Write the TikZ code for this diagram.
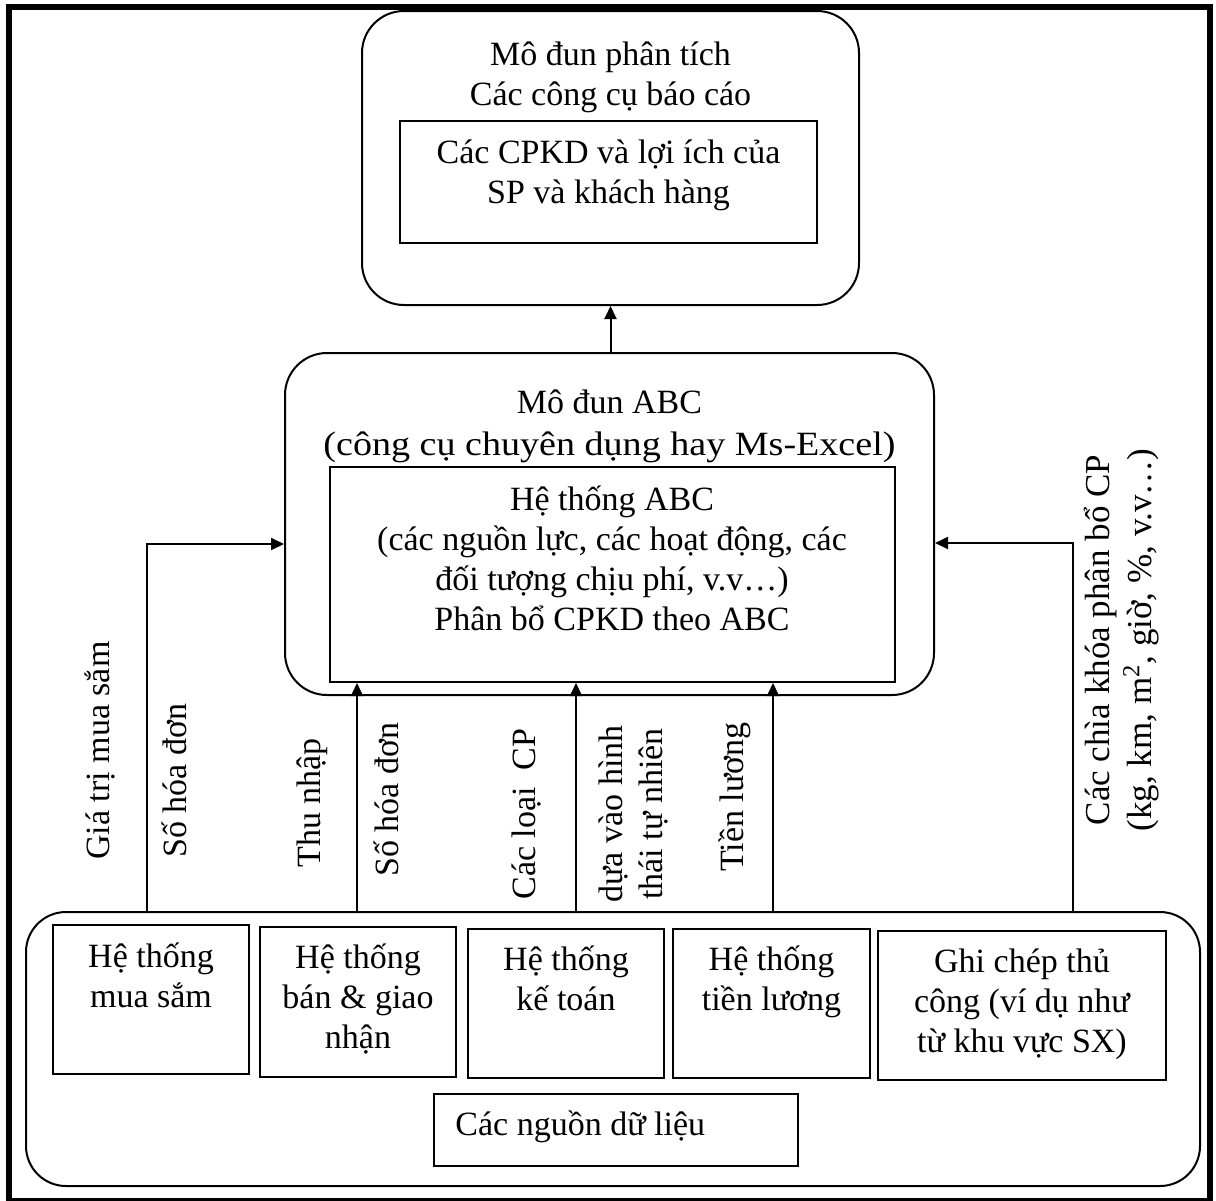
\documentclass[tikz,border=0pt]{standalone}
\usepackage{graphicx}
\usepackage{fontspec}
\setmainfont{Liberation Serif}
\usetikzlibrary{arrows.meta,fit}
\begin{document}
\begin{tikzpicture}[x=0.5pt,y=-0.5pt,
  every node/.style={font=\fontsize{17pt}{20pt}\selectfont, inner sep=0pt},
  rbox/.style={draw, line width=1pt, rounded corners=21pt, inner sep=0pt},
  sbox/.style={draw, line width=1pt, inner sep=0pt},
  dbox/.style={draw, line width=1.2pt, inner sep=0pt},
  txt/.style={align=center, anchor=base},
  vlab/.style={rotate=90, anchor=base west},
  vpair/.style={rotate=90, align=center, anchor=center},
  arr/.style={line width=1pt, -{Triangle[length=6.5pt,width=6pt]}}]
\useasboundingbox (0,0) rectangle (1216,1200);
% outer frame
\draw[line width=3pt] (9,6.5) rectangle (1209.5,1201);

% analysis module (text anchors sit on the last line's baseline)
\node[rbox, fit={(362,11) (859,305)}] (rep) {};
\node[txt] (repT) at (610.5,105) {Mô đun phân tích\\Các công cụ báo cáo};
\node[sbox, fit={(400,121) (817,243)}] (cost) {};
\node[txt] (costT) at (608.5,203) {Các CPKD và lợi ích của\\SP và khách hàng};

% ABC module
\node[rbox, fit={(285,353) (934,695)}] (mod) {};
\node[txt, font=\fontsize{17pt}{21pt}\selectfont] (modT) at (609.5,455) {Mô đun ABC\\\scalebox{1.12}[1]{(công cụ chuyên dụng hay Ms-Excel)}};
\node[sbox, fit={(330,467) (895,682)}] (abc) {};
\node[txt] (abcT) at (612,630) {Hệ thống ABC\\(các nguồn lực, các hoạt động, các\\đối tượng chịu phí, v.v…)\\Phân bổ CPKD theo ABC};

% data sources
\node[rbox, rounded corners=20pt, fit={(26,912) (1200,1186)}] (src) {};
\node[dbox, fit={(53,925) (249,1074)}] (s1) {};
\node[txt] at (151,1007) {Hệ thống\\mua sắm};
\node[dbox, fit={(260,927) (456,1077)}] (s2) {};
\node[txt] at (358,1048) {Hệ thống\\bán \& giao\\nhận};
\node[dbox, fit={(468,929) (664,1078)}] (s3) {};
\node[txt] at (566,1010) {Hệ thống\\kế toán};
\node[dbox, fit={(673,929) (870,1078)}] (s4) {};
\node[txt] at (771.5,1010) {Hệ thống\\tiền lương};
\node[dbox, fit={(878,931) (1166,1080)}] (s5) {};
\node[txt] at (1022,1052) {Ghi chép thủ\\công (ví dụ như\\từ khu vực SX)};
\node[dbox, fit={(434,1094) (798,1166)}] (s6) {};
\node[anchor=base west] at (455,1135) {Các nguồn dữ liệu};

% connectors
\draw[arr] (mod.north -| rep.south) -- (rep.south);
\coordinate (pL) at (147,544);
\coordinate (pR) at (1073,543);
\draw[arr] (pL |- src.north) |- (pL -| mod.west);
\draw[arr] (pR |- src.north) |- (pR -| mod.east);
\coordinate (c1) at (357,0);
\coordinate (c2) at (576,0);
\coordinate (c3) at (773,0);
\draw[arr] (c1 |- src.north) -- (c1 |- abc.south);
\draw[arr] (c2 |- src.north) -- (c2 |- abc.south);
\draw[arr] (c3 |- src.north) -- (c3 |- abc.south);

% flow labels
\node[vlab] at (109,860) {Giá trị mua sắm};
\node[vlab] at (186,858) {Số hóa đơn};
\node[vlab] at (320,868) {Thu nhập};
\node[vlab] at (398,877) {Số hóa đơn};
\node[vlab] at (535,900) {Các loại\ \ CP};
\node[vpair] at (633,814) {dựa vào hình\\thái tự nhiên};
\node[vlab] at (743,872) {Tiền lương};
\node[vpair, font=\fontsize{17.5pt}{21pt}\selectfont] at (1122,640) {Các chìa khóa phân bổ CP\\(kg, km, m\textsuperscript{2}, giờ, \%, v.v…)};
\end{tikzpicture}
\end{document}
